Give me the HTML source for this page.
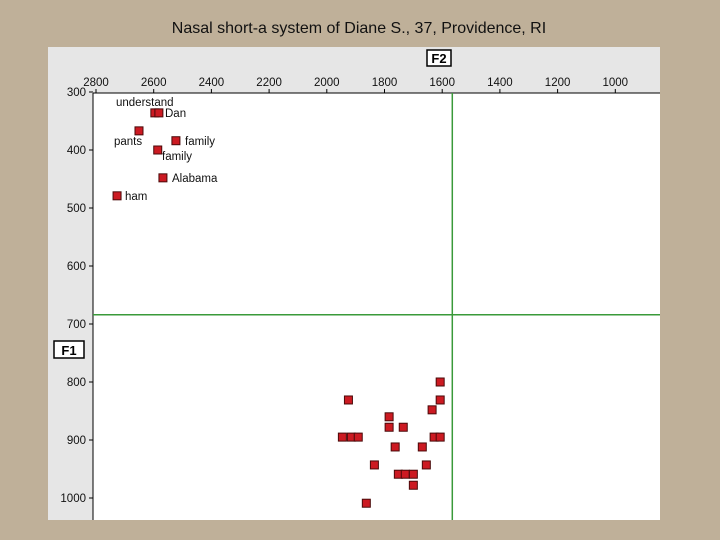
<!DOCTYPE html>
<html><head><meta charset="utf-8"><style>
html,body{margin:0;padding:0;background:#bfb099;width:720px;height:540px;overflow:hidden}
svg{display:block}
text{font-family:"Liberation Sans",sans-serif}
</style></head><body>
<svg width="720" height="540">
<text x="359" y="33" font-size="16" text-anchor="middle" fill="#111">Nasal short-a system of Diane S., 37, Providence, RI</text>
<rect x="48" y="47" width="612" height="473" fill="#e6e6e6"/>
<rect x="93" y="93" width="567" height="427" fill="#fff"/>
<g id="axes"></g>
<g id="marks"></g>
</svg>
<script>
const xTicks=[2800,2600,2400,2200,2000,1800,1600,1400,1200,1000];
const yTicks=[300,400,500,600,700,800,900,1000];
const labeledF2=[2596,2582,2651,2523,2586,2568,2727];
const labeledF1=[336,336,367,384,400,448,479];
const labelText=["","Dan","pants","family","family","Alabama","ham"];
const nasalF2=[1607,1607,1635,1925,1784,1784,1735,1946,1915,1891,1628,1607,1763,1669,1835,1655,1752,1728,1700,1700,1863];
const nasalF1=[800,831,848,831,860,878,878,895,895,895,895,895,912,912,943,943,959,959,959,978,1009];
const refF2=1565, refF1=684;
const X=v=>96+(2800-v)*0.2885;
const Y=v=>92+(v-300)*0.58;
const NS="http://www.w3.org/2000/svg";
function mk(tag,attrs,parent){const e=document.createElementNS(NS,tag);for(const k in attrs)e.setAttribute(k,attrs[k]);parent.appendChild(e);return e;}
const ax=document.getElementById('axes'), mg=document.getElementById('marks');
let l=mk('line',{x1:93,y1:93,x2:660,y2:93,stroke:'#000','stroke-width':1},ax);


l=mk('line',{x1:93,y1:93,x2:93,y2:520,stroke:'#000','stroke-width':1},ax);


xTicks.forEach(v=>{
  const t=mk('line',{x1:X(v),y1:89,x2:X(v),y2:93,stroke:'#000'},ax);
  
  
  const tx=mk('text',{x:X(v),y:86,'font-size':11.5,'text-anchor':'middle',fill:'#111'},ax);
  tx.textContent=v;
  
  
});
yTicks.forEach(v=>{
  const t=mk('line',{x1:89,y1:Y(v),x2:93,y2:Y(v),stroke:'#000'},ax);
  
  
  const tx=mk('text',{x:86,y:Y(v)+4,'font-size':11.5,'text-anchor':'end',fill:'#111'},ax);
  tx.textContent=v;
  
  
});
let b=mk('rect',{x:427,y:50,width:24,height:16,fill:'#fff',stroke:'#000','stroke-width':1.5},ax);


let tt=mk('text',{x:439,y:63,'font-size':13,'font-weight':'bold','text-anchor':'middle'},ax);
tt.textContent='F2';


b=mk('rect',{x:54,y:341,width:30,height:17,fill:'#fff',stroke:'#000','stroke-width':1.5},ax);


tt=mk('text',{x:69,y:355,'font-size':13,'font-weight':'bold','text-anchor':'middle'},ax);
tt.textContent='F1';


l=mk('line',{x1:X(refF2),y1:93,x2:X(refF2),y2:520,stroke:'#3a9a3a','stroke-width':1.5},mg);


l=mk('line',{x1:93,y1:Y(refF1),x2:660,y2:Y(refF1),stroke:'#3a9a3a','stroke-width':1.5},mg);


function pt(f2,f1,name){
  const r=mk('rect',{x:X(f2)-4,y:Y(f1)-4,width:8,height:8,fill:'#cc1a22',stroke:'#4a0a0a','stroke-width':1},mg);
  
  
}
labeledF2.forEach((v,i)=>pt(v,labeledF1[i],'vowel-point'));
nasalF2.forEach((v,i)=>pt(v,nasalF1[i],'nasal-vowel-point'));
const lblPos=[[116,106],[165,117],[114,145],[185,145],[162,160],[172,182],[125,200]];
const lbls=['understand','Dan','pants','family','family','Alabama','ham'];
lbls.forEach((s,i)=>{
  const t=mk('text',{x:lblPos[i][0],y:lblPos[i][1],'font-size':11.5,fill:'#111'},mg);
  t.textContent=s;
  
  
});
</script>
</body></html>
